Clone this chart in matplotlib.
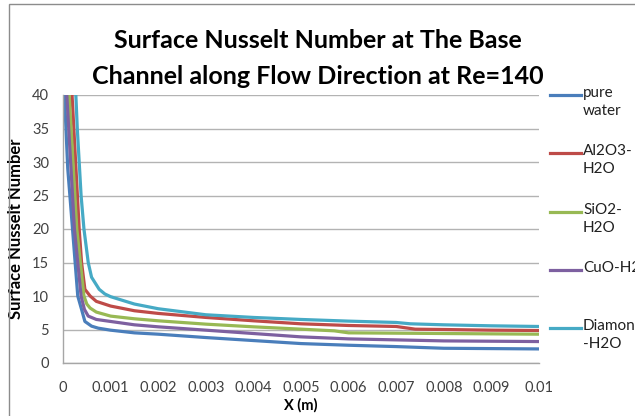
import matplotlib.pyplot as plt
from matplotlib.lines import Line2D
from matplotlib.patches import Rectangle

FONT = ["Lato", "DejaVu Sans"]
plt.rcParams["font.family"] = FONT

# x in metres, surface Nusselt number
water_x = [0.00003, 0.0001, 0.0002, 0.00031, 0.00039, 0.00046, 0.0006, 0.00074, 0.001,
           0.0015, 0.002, 0.003, 0.004, 0.005, 0.006, 0.007, 0.008, 0.009, 0.01]
water_y = [40, 29, 20, 10, 8.0, 6.2, 5.5, 5.2, 4.9,
           4.5, 4.3, 3.8, 3.35, 2.9, 2.65, 2.45, 2.2, 2.15, 2.1]

al2o3_x = [0.00019, 0.00034, 0.00039, 0.00046, 0.00057, 0.0007, 0.001, 0.0015, 0.002, 0.003,
           0.004, 0.005, 0.006, 0.007, 0.0074, 0.008, 0.009, 0.01]
al2o3_y = [40, 20, 15, 11, 10, 9.2, 8.5, 7.8, 7.4, 6.8,
           6.3, 5.85, 5.6, 5.45, 5.05, 5.0, 4.9, 4.85]

sio2_x = [0.00013, 0.00029, 0.00044, 0.0005, 0.00057, 0.0007, 0.001, 0.0015, 0.002, 0.003,
          0.004, 0.005, 0.0057, 0.006, 0.007, 0.008, 0.009, 0.01]
sio2_y = [40, 20, 10, 8.8, 8.2, 7.6, 7.0, 6.6, 6.3, 5.8,
          5.4, 5.05, 4.8, 4.5, 4.45, 4.4, 4.35, 4.3]

cuo_x = [0.00008, 0.00024, 0.00038, 0.00045, 0.00053, 0.0007, 0.001, 0.0015, 0.002, 0.003,
         0.004, 0.005, 0.006, 0.007, 0.008, 0.009, 0.01]
cuo_y = [40, 20, 10, 8.0, 7.0, 6.5, 6.2, 5.7, 5.4, 4.9,
         4.4, 3.9, 3.6, 3.45, 3.3, 3.25, 3.2]

diamond_x = [0.00027, 0.0003, 0.00034, 0.00038, 0.00044, 0.00053, 0.0006, 0.00076, 0.00088,
             0.001, 0.0015, 0.002, 0.003, 0.004, 0.005, 0.006, 0.007, 0.0073, 0.008, 0.009, 0.01]
diamond_y = [40, 35, 30, 25, 20, 15, 12.8, 11, 10.3,
             9.9, 8.8, 8.1, 7.2, 6.8, 6.5, 6.25, 6.05, 5.85, 5.7, 5.55, 5.45]

series = [
    ("pure\nwater", water_x, water_y, "#4A7EBB"),
    ("Al2O3-\nH2O", al2o3_x, al2o3_y, "#BE4B48"),
    ("SiO2-\nH2O", sio2_x, sio2_y, "#98B954"),
    ("CuO-H2O", cuo_x, cuo_y, "#7D60A0"),
    ("Diamond\n-H2O", diamond_x, diamond_y, "#46AAC5"),
]

x_ticks = [0, 0.001, 0.002, 0.003, 0.004, 0.005, 0.006, 0.007, 0.008, 0.009, 0.01]
x_tick_labels = ["0", "0.001", "0.002", "0.003", "0.004", "0.005",
                 "0.006", "0.007", "0.008", "0.009", "0.01"]
y_ticks = [0, 5, 10, 15, 20, 25, 30, 35, 40]

fig = plt.figure(figsize=(6.35, 4.16), dpi=100)
fig.patches.append(Rectangle((9 / 635, -0.1), 1.2, 1.1 - 4 / 416, transform=fig.transFigure,
                             fill=False, edgecolor="#8c8c8c", linewidth=1.0))

ax = fig.add_axes([63 / 635, 1 - 363 / 416, 476 / 635, 268 / 416])

for label, xs, ys, color in series:
    ax.plot(xs, ys, color=color, linewidth=2.3, solid_capstyle="butt")

ax.set_xlim(0, 0.01)
ax.set_ylim(0, 40)
ax.set_xticks(x_ticks)
ax.set_xticklabels(x_tick_labels)
ax.set_yticks(y_ticks)
ax.tick_params(axis="x", length=0, pad=13, labelsize=10.5, labelcolor="#404040")
ax.tick_params(axis="y", length=0, pad=10, labelsize=10.5, labelcolor="#404040")
ax.yaxis.grid(True, color="#b3b3b3", linewidth=1.0)
ax.set_axisbelow(True)
for side in ["top", "right"]:
    ax.spines[side].set_visible(False)
for side in ["left", "bottom"]:
    ax.spines[side].set_color("#a6a6a6")
    ax.spines[side].set_linewidth(1.0)

ax.set_xlabel("X (m)", fontsize=10.5, fontweight="bold", labelpad=2)
ax.set_ylabel("Surface Nusselt Number", fontsize=12, fontweight="bold", labelpad=6)

fig.text(318 / 635, 1 - 40 / 416, "Surface Nusselt Number at The Base", ha="center",
         va="center", fontsize=18, fontweight="bold")
fig.text(318 / 635, 1 - 76 / 416, "Channel along Flow Direction at Re=140", ha="center",
         va="center", fontsize=18, fontweight="bold")

# legend on the right, line level with the first text line
legend_rows = [95, 153, 212, 270, 328]
for (label, xs, ys, color), row in zip(series, legend_rows):
    yf = 1 - row / 416
    fig.lines.append(Line2D([550 / 635, 581 / 635], [yf, yf], transform=fig.transFigure,
                            color=color, linewidth=2.3))
    fig.text(583 / 635, yf + 9 / 416, label, ha="left", va="top", fontsize=11,
             linespacing=1.35, color="#202020")

fig.savefig("out.png", dpi=100)
